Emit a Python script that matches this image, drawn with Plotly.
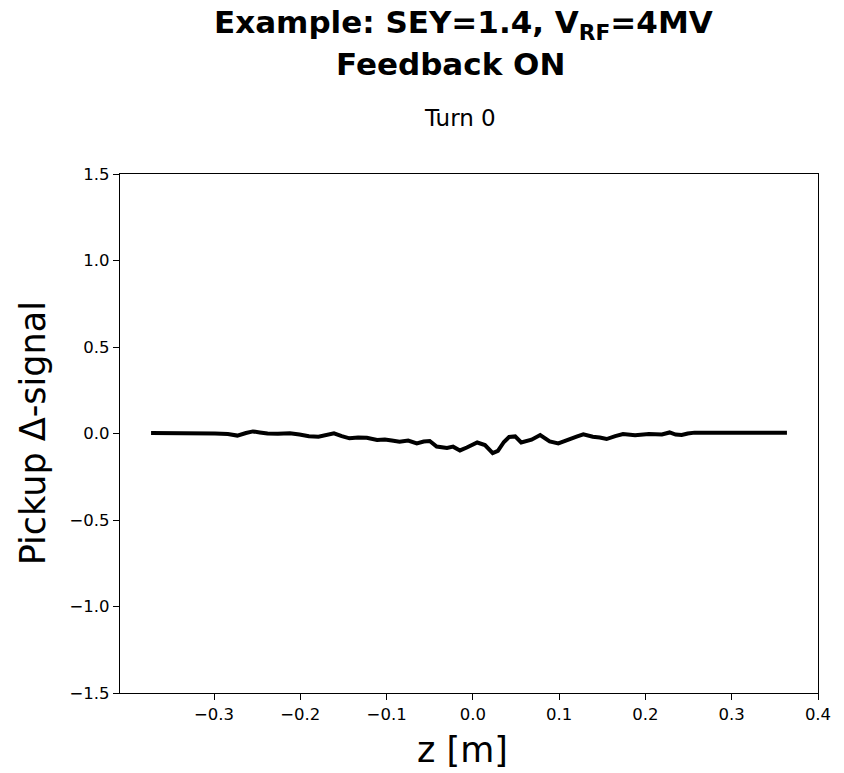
import plotly.graph_objects as go

# Data
z_m = [-0.373, -0.346, -0.317, -0.299, -0.284, -0.273, -0.263, -0.255, -0.247, -0.238,
       -0.226, -0.212, -0.201, -0.190, -0.179, -0.169, -0.161, -0.152, -0.143, -0.133,
       -0.123, -0.111, -0.102, -0.094, -0.085, -0.075, -0.065, -0.057, -0.050, -0.042,
       -0.030, -0.023, -0.015, -0.007, -0.001, 0.005, 0.014, 0.023, 0.029, 0.036,
       0.042, 0.049, 0.056, 0.061, 0.068, 0.078, 0.084, 0.089, 0.099, 0.106,
       0.113, 0.121, 0.128, 0.139, 0.147, 0.155, 0.165, 0.174, 0.188, 0.204,
       0.219, 0.228, 0.235, 0.242, 0.249, 0.257, 0.286, 0.321, 0.364]
signal = [0.003, 0.003, 0.003, 0.000, -0.003, -0.012, 0.003, 0.012, 0.006, 0.000,
          -0.002, 0.002, -0.006, -0.016, -0.019, -0.009, 0.001, -0.015, -0.028, -0.023,
          -0.025, -0.038, -0.035, -0.041, -0.047, -0.041, -0.057, -0.046, -0.043, -0.075,
          -0.083, -0.076, -0.098, -0.081, -0.067, -0.052, -0.067, -0.113, -0.101, -0.049,
          -0.020, -0.017, -0.052, -0.043, -0.036, -0.009, -0.026, -0.046, -0.057, -0.043,
          -0.028, -0.017, -0.005, -0.019, -0.023, -0.032, -0.015, -0.003, -0.010, -0.003,
          -0.006, 0.006, -0.006, -0.009, 0.000, 0.005, 0.005, 0.005, 0.005]

x_ticks = [-0.3, -0.2, -0.1, 0.0, 0.1, 0.2, 0.3, 0.4]
y_ticks = [-1.5, -1.0, -0.5, 0.0, 0.5, 1.0, 1.5]

FONT = "DejaVu Sans"

fig = go.Figure()
fig.add_trace(go.Scatter(x=z_m, y=signal, mode="lines",
                         line=dict(color="black", width=4), showlegend=False))

axis_common = dict(showgrid=False, zeroline=False, showline=True, linecolor="black",
                   linewidth=1.3, mirror=True, ticks="outside", ticklen=6, tickwidth=1.3,
                   tickcolor="black", tickfont=dict(family=FONT, size=16.5, color="black"),
                   tickformat=".1f")

fig.update_xaxes(range=[-0.409, 0.4], tickvals=x_ticks, **axis_common)
fig.update_yaxes(range=[-1.5, 1.5], tickvals=y_ticks, **axis_common)

annotations = [
    dict(text="<b>Example: SEY=1.4, V<sub>RF</sub>=4MV</b>", x=0.492, y=1.289,
         font=dict(family=FONT, size=31, color="black")),
    dict(text="<b>Feedback ON</b>", x=0.473, y=1.212,
         font=dict(family=FONT, size=31, color="black")),
    dict(text="Turn 0", x=0.487, y=1.108, font=dict(family=FONT, size=23, color="black")),
    dict(text="z [m]", x=0.49, y=-0.110, font=dict(family=FONT, size=35, color="black")),
    dict(text="Pickup Δ-signal", x=-0.125, y=0.5, textangle=-90,
         font=dict(family=FONT, size=35, color="black")),
]
for a in annotations:
    a.update(xref="paper", yref="paper", showarrow=False, xanchor="center", yanchor="middle")

fig.update_layout(width=844, height=773, margin=dict(l=120, r=26, t=174, b=80),
                  paper_bgcolor="white", plot_bgcolor="white", annotations=annotations)

fig.write_html("out.html")
